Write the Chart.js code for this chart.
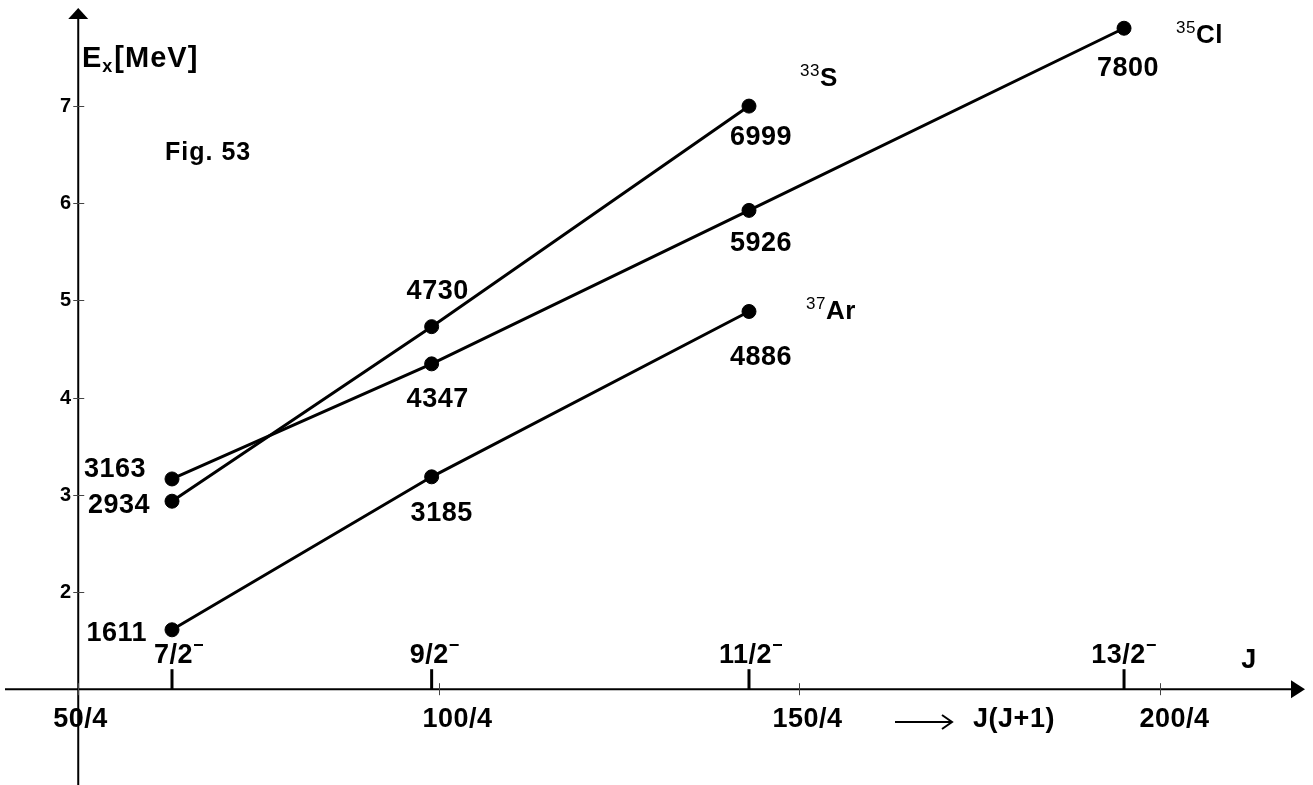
<!DOCTYPE html>
<html>
<head>
<meta charset="utf-8">
<script src="https://cdn.jsdelivr.net/npm/chart.js@4.4.1/dist/chart.umd.min.js"></script>
<style>
  html, body { margin: 0; padding: 0; background: #fff; overflow: hidden; }
  canvas { display: block; }
</style>
</head>
<body>
<canvas id="fig" width="1313" height="785"></canvas>
<script>
// Spin J of each level and its label
const spins = [3.5, 4.5, 5.5, 6.5];
const spinLabels = ['7/2', '9/2', '11/2', '13/2'];

// Excitation energies (MeV) of the negative-parity band members
const energyS33 = [2.934, 4.730, 6.999];
const energyCl35 = [3.163, 4.347, 5.926, 7.800];
const energyAr37 = [1.611, 3.185, 4.886];

// J(J+1) tick marks and labels
const jjTickValues = [50 / 4, 100 / 4, 150 / 4, 200 / 4];
const jjTickLabels = ['50/4', '100/4', '150/4', '200/4'];

// Energy axis ticks (MeV)
const energyTicks = [2, 3, 4, 5, 6, 7];

// Nuclide names
const nuclideMass = ['33', '35', '37'];
const nuclideSymbol = ['S', 'Cl', 'Ar'];

const FONT = '"Liberation Sans", Arial, Helvetica, sans-serif';
const jj = j => j * (j + 1);
const toPoints = vals => vals.map((e, i) => ({ x: jj(spins[i]), y: e }));

// Placement of the value labels relative to each point (pixels)
const valueLabelStyle = [
  [{ dx: -22, dy: 12, align: 'right' }, { dx: 6, dy: -28, align: 'center' }, { dx: 12, dy: 39, align: 'center' }],
  [{ dx: -26, dy: -2, align: 'right' }, { dx: 6, dy: 43, align: 'center' }, { dx: 12, dy: 41, align: 'center' }, { dx: 4, dy: 48, align: 'center' }],
  [{ dx: -25, dy: 11, align: 'right' }, { dx: 10, dy: 44, align: 'center' }, { dx: 12, dy: 54, align: 'center' }]
];
// Nuclide name placement relative to the last point of each band
const nuclideStyle = [{ dx: 51, dy: -20 }, { dx: 52, dy: 15 }, { dx: 57, dy: 8 }];
const spinLabelShift = [7, 3, 2, 0];
const jjLabelShift = [2, 18, 8, 14];

function setSpacing(ctx, v) {
  if ('letterSpacing' in ctx) ctx.letterSpacing = v;
}

const figurePlugin = {
  id: 'figureDecor',
  beforeDatasetsDraw(chart) {
    const { ctx, scales: { x, y } } = chart;
    const ax = x.getPixelForValue(12.5);
    const ay = y.getPixelForValue(1);
    ctx.save();
    ctx.strokeStyle = '#000';
    ctx.fillStyle = '#000';

    // vertical axis with arrow
    ctx.lineWidth = 2;
    ctx.beginPath();
    ctx.moveTo(ax, chart.height);
    ctx.lineTo(ax, 16);
    ctx.stroke();
    ctx.beginPath();
    ctx.moveTo(ax, 8);
    ctx.lineTo(ax - 10, 19);
    ctx.lineTo(ax + 10, 19);
    ctx.closePath();
    ctx.fill();

    // horizontal axis with arrow
    ctx.beginPath();
    ctx.moveTo(5, ay);
    ctx.lineTo(1292, ay);
    ctx.stroke();
    ctx.beginPath();
    ctx.moveTo(1305, ay);
    ctx.lineTo(1291, ay - 9);
    ctx.lineTo(1291, ay + 9);
    ctx.closePath();
    ctx.fill();

    // energy ticks and labels
    ctx.lineWidth = 1;
    ctx.strokeStyle = '#444';
    ctx.font = 'bold 20px ' + FONT;
    ctx.textAlign = 'right';
    ctx.textBaseline = 'middle';
    energyTicks.forEach(v => {
      const py = Math.round(y.getPixelForValue(v)) + 0.5;
      ctx.beginPath();
      ctx.moveTo(ax - 5, py);
      ctx.lineTo(ax + 6, py);
      ctx.stroke();
      ctx.fillText(String(v), ax - 7, py);
    });

    // J(J+1) ticks and labels
    ctx.font = 'bold 27px ' + FONT;
    setSpacing(ctx, '0.5px');
    ctx.textAlign = 'center';
    ctx.textBaseline = 'alphabetic';
    jjTickValues.forEach((v, i) => {
      const px = Math.round(x.getPixelForValue(v)) + 0.5;
      ctx.beginPath();
      ctx.moveTo(px, ay - 6);
      ctx.lineTo(px, ay + 6);
      ctx.stroke();
      ctx.fillText(jjTickLabels[i], px + jjLabelShift[i], 727);
    });

    // spin ticks and labels
    ctx.strokeStyle = '#000';
    spins.forEach((j, i) => {
      const px = x.getPixelForValue(jj(j));
      ctx.lineWidth = 3;
      ctx.beginPath();
      ctx.moveTo(px, ay - 20);
      ctx.lineTo(px, ay);
      ctx.stroke();
      ctx.font = 'bold 27px ' + FONT;
      const w = ctx.measureText(spinLabels[i]).width;
      const total = w + 11;
      const left = px + spinLabelShift[i] - total / 2;
      ctx.textAlign = 'left';
      ctx.fillText(spinLabels[i], left, 663);
      ctx.lineWidth = 2;
      ctx.beginPath();
      ctx.moveTo(left + w + 1, 645);
      ctx.lineTo(left + w + 10, 645);
      ctx.stroke();
    });

    // axis titles
    ctx.textAlign = 'center';
    ctx.font = 'bold 27px ' + FONT;
    ctx.fillText('J', 1249, 668);
    ctx.fillText('J(J+1)', 1014, 727);
    ctx.lineWidth = 2;
    ctx.beginPath();
    ctx.moveTo(895, 722);
    ctx.lineTo(952, 722);
    ctx.moveTo(942, 715);
    ctx.lineTo(952, 722);
    ctx.lineTo(942, 729);
    ctx.stroke();

    ctx.textAlign = 'left';
    setSpacing(ctx, '1px');
    ctx.font = 'bold 29px ' + FONT;
    ctx.fillText('E', 82, 67);
    let cx = 82 + ctx.measureText('E').width;
    ctx.font = 'bold 18px ' + FONT;
    ctx.fillText('x', cx, 72);
    cx += ctx.measureText('x').width + 1;
    ctx.font = 'bold 29px ' + FONT;
    ctx.fillText('[MeV]', cx, 67);

    ctx.font = 'bold 25px ' + FONT;
    ctx.fillText('Fig. 53', 165, 160);
    ctx.restore();
  },
  afterDatasetsDraw(chart) {
    const { ctx } = chart;
    ctx.save();
    ctx.fillStyle = '#000';
    setSpacing(ctx, '0.5px');
    chart.data.datasets.forEach((ds, di) => {
      const meta = chart.getDatasetMeta(di);
      ctx.font = 'bold 27px ' + FONT;
      ctx.textBaseline = 'alphabetic';
      meta.data.forEach((pt, i) => {
        const st = valueLabelStyle[di][i];
        ctx.textAlign = st.align;
        ctx.fillText(String(Math.round(ds.data[i].y * 1000)), pt.x + st.dx, pt.y + st.dy);
      });
      // nuclide name next to the top level of the band
      const last = meta.data[meta.data.length - 1];
      const ns = nuclideStyle[di];
      const bx = last.x + ns.dx;
      const by = last.y + ns.dy;
      ctx.textAlign = 'left';
      ctx.font = '17px ' + FONT;
      ctx.fillText(nuclideMass[di], bx, by - 10);
      const mw = ctx.measureText(nuclideMass[di]).width;
      ctx.font = 'bold 26px ' + FONT;
      ctx.fillText(nuclideSymbol[di], bx + mw, by);
    });
    ctx.restore();
  }
};

const lineStyle = {
  showLine: true,
  borderColor: '#000',
  borderWidth: 3,
  backgroundColor: '#000',
  pointBackgroundColor: '#000',
  pointBorderColor: '#000',
  pointRadius: 7,
  pointBorderWidth: 1,
  clip: false
};

new Chart(document.getElementById('fig'), {
  type: 'scatter',
  data: {
    datasets: [
      Object.assign({ label: '33S', data: toPoints(energyS33) }, lineStyle),
      Object.assign({ label: '35Cl', data: toPoints(energyCl35) }, lineStyle),
      Object.assign({ label: '37Ar', data: toPoints(energyAr37) }, lineStyle)
    ]
  },
  options: {
    responsive: false,
    animation: false,
    layout: { padding: 0, autoPadding: false },
    plugins: { legend: { display: false }, tooltip: { enabled: false } },
    scales: {
      x: { type: 'linear', display: false, min: 9.788, max: 55.30 },
      y: { type: 'linear', display: false, min: 0.0144, max: 8.0905 }
    }
  },
  plugins: [figurePlugin]
});
</script>
</body>
</html>
